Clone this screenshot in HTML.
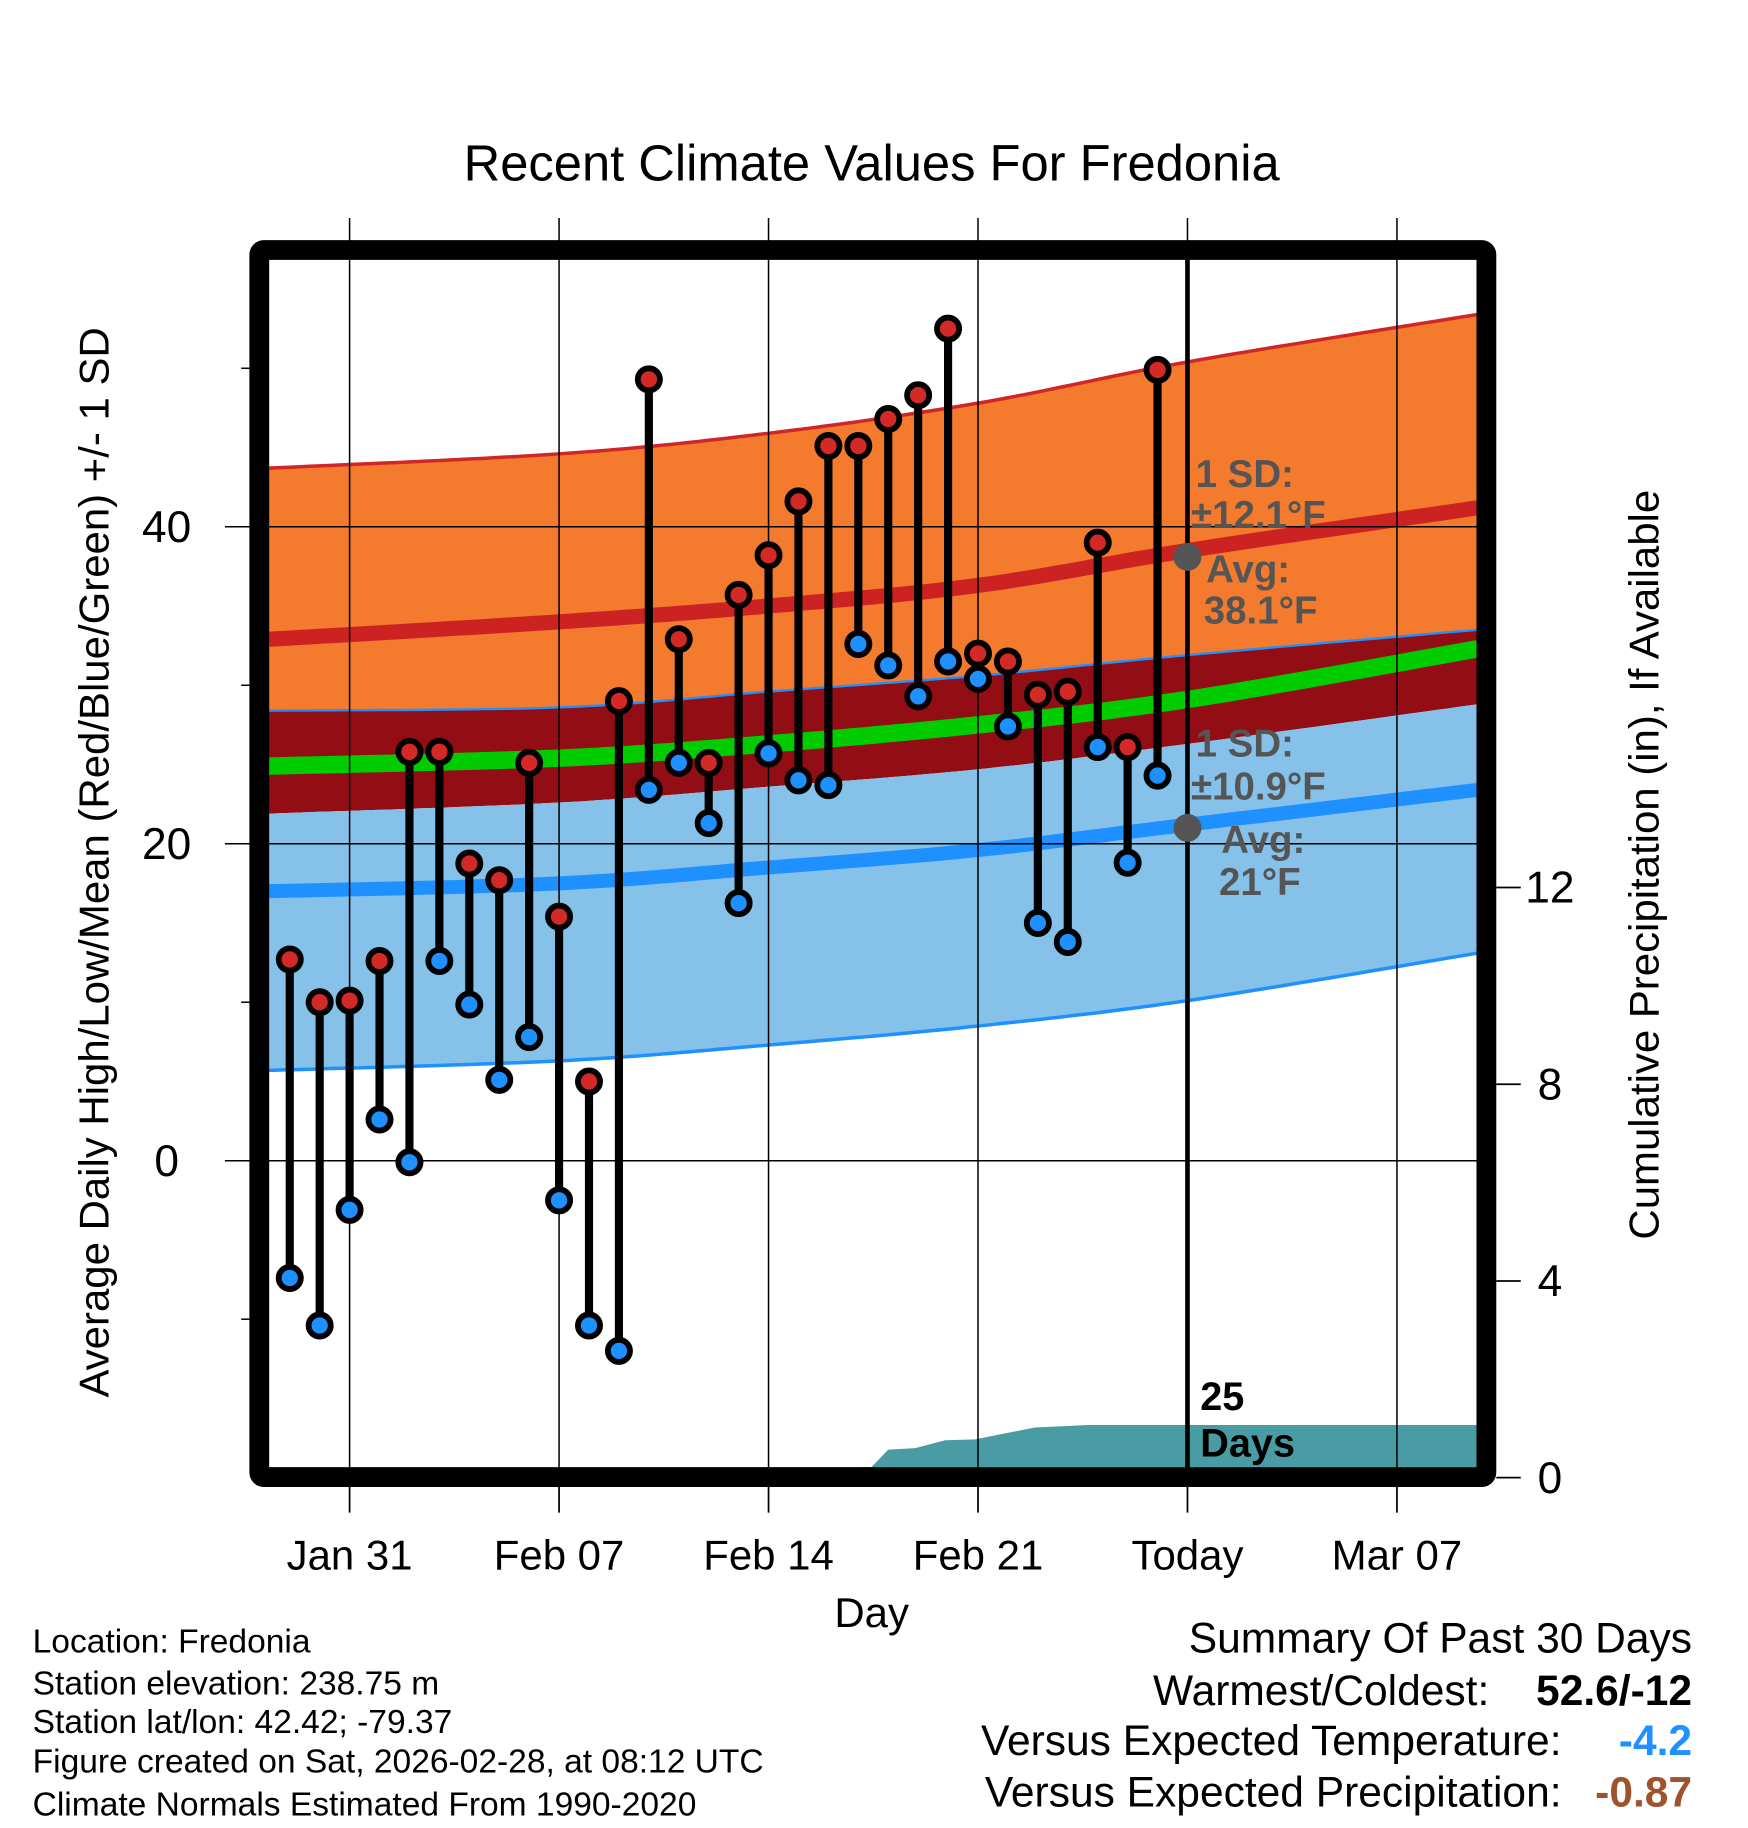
<!DOCTYPE html>
<html><head><meta charset="utf-8"><style>
html,body{margin:0;padding:0;background:#fff}
svg{display:block}
text{font-family:"Liberation Sans",Arial,sans-serif}
</style></head><body>
<svg id="chart" width="1748" height="1828" viewBox="0 0 1500 1568.6" xmlns="http://www.w3.org/2000/svg">
<text x="748" y="155" font-size="43.5" text-anchor="middle">Recent Climate Values For Fredonia</text>
<g id="fills"></g>
<g id="grid"></g>
<g id="marks"></g>
<g id="annot">
<g font-weight="bold" font-size="33" fill="#555">
<text x="1026" y="418">1 SD:</text>
<text x="1022" y="453">±12.1°F</text>
<text x="1035" y="500">Avg:</text>
<text x="1033" y="535">38.1°F</text>
<text x="1026" y="649">1 SD:</text>
<text x="1022" y="686">±10.9°F</text>
<text x="1048" y="732">Avg:</text>
<text x="1046" y="768">21°F</text>
</g>
<text x="1030" y="1210" font-size="34" font-weight="bold">25</text>
<text x="1030" y="1250" font-size="34" font-weight="bold">Days</text>
</g>
<rect x="222.5" y="214.5" width="1053" height="1053" rx="4" fill="none" stroke="#000" stroke-width="17"/>
<g id="axes" font-size="36"></g>
<text x="748" y="1396" font-size="36" text-anchor="middle">Day</text>
<text transform="translate(93,740) rotate(-90)" font-size="36" text-anchor="middle">Average Daily High/Low/Mean (Red/Blue/Green) +/- 1 SD</text>
<text transform="translate(1423,742) rotate(-90)" font-size="36" text-anchor="middle">Cumulative Precipitation (in), If Available</text>
<g font-size="28.8">
<text x="28" y="1418">Location: Fredonia</text>
<text x="28" y="1454">Station elevation: 238.75 m</text>
<text x="28" y="1487">Station lat/lon: 42.42; -79.37</text>
<text x="28" y="1521">Figure created on Sat, 2026-02-28, at 08:12 UTC</text>
<text x="28" y="1558">Climate Normals Estimated From 1990-2020</text>
</g>
<g font-size="36.5">
<text x="1452" y="1418" text-anchor="end">Summary Of Past 30 Days</text>
<text x="1278" y="1463" text-anchor="end">Warmest/Coldest:</text>
<text x="1452" y="1463" text-anchor="end" font-weight="bold">52.6/-12</text>
<text x="1340" y="1506" text-anchor="end">Versus Expected Temperature:</text>
<text x="1452" y="1506" text-anchor="end" font-weight="bold" fill="#1e90ff">-4.2</text>
<text x="1340" y="1550" text-anchor="end">Versus Expected Precipitation:</text>
<text x="1452" y="1550" text-anchor="end" font-weight="bold" fill="#a0522d">-0.87</text>
</g>
</svg>
<script>
// daily observations (day index: 0 = Jan 31)
const obsDays = [-2,-1,0,1,2,3,4,5,6,7,8,9,10,11,12,13,14,15,16,17,18,19,20,21,22,23,24,25,26,27];
const highs = [12.7,10.0,10.1,12.6,25.8,25.8,18.75,17.7,25.1,15.4,5.0,29.0,49.3,32.9,25.1,35.7,38.2,41.6,45.1,45.1,46.8,48.3,52.5,32.0,31.5,29.4,29.6,39.0,26.1,49.9];
const lows = [-7.4,-10.4,-3.1,2.6,-0.1,12.6,9.85,5.1,7.8,-2.5,-10.4,-12.0,23.4,25.1,21.3,16.25,25.7,24.0,23.7,32.6,31.25,29.3,31.5,30.4,27.4,15.0,13.8,26.1,18.8,24.3];
// climatology
const climDays = [-2.7,7,14,21,28,37.7];
const highTop = [43.7,44.6,45.9,47.8,50.4,53.4];
const highMean = [32.9,34.0,35.0,36.3,38.5,41.2];
const highBot = [28.4,28.6,29.6,30.6,31.9,33.5];
const meanMean = [24.9,25.4,26.3,27.5,29.1,32.3];
const lowTop = [21.9,22.6,23.6,24.7,26.3,28.8];
const lowMean = [17.0,17.5,18.5,19.6,21.2,23.4];
const lowBot = [5.7,6.3,7.3,8.5,10.1,13.1];
// cumulative precipitation
const precipDays = [17.1,18.0,18.9,19.9,20.9,22.9,24.7,37.7];
const precipVals = [0,0.57,0.6,0.76,0.78,1.02,1.07,1.07];
const xTickDays = [0,7,14,21,28,35];
const xTickLabels = ["Jan 31","Feb 07","Feb 14","Feb 21","Today","Mar 07"];
const yTicks = [0,20,40];
const yMinor = [-10,10,30,50];
const y2Ticks = [0,4,8,12];

const NS="http://www.w3.org/2000/svg";
const X0=231,X1=1268,Y0=223,Y1=1259;
const xs=d=>300+d*(1019-300)/28;
const ys=v=>996-v*13.6;
const yp=v=>1268-v*42.2;
function mk(tag,attrs,parent){const e=document.createElementNS(NS,tag);for(const k in attrs)e.setAttribute(k,attrs[k]);parent.appendChild(e);return e;}
function curvePts(days,vals){const out=[];for(let i=0;i<days.length-1;i++){const p0=i>0?i-1:i,p3=i+2<days.length?i+2:i+1;for(let t=0;t<1;t+=0.05){const c=(a)=>{const P0=a[p0],P1=a[i],P2=a[i+1],P3=a[p3];return 0.5*((2*P1)+(-P0+P2)*t+(2*P0-5*P1+4*P2-P3)*t*t+(-P0+3*P1-3*P2+P3)*t*t*t);};out.push([xs(c(days)),ys(c(vals))]);}}out.push([xs(days[days.length-1]),ys(vals[vals.length-1])]);return out;}
function band(top,bot){const a=curvePts(climDays,top),b=curvePts(climDays,bot).reverse();return "M"+a.concat(b).map(p=>p[0].toFixed(1)+","+p[1].toFixed(1)).join("L")+"Z";}
function line(vals){return "M"+curvePts(climDays,vals).map(p=>p[0].toFixed(1)+","+p[1].toFixed(1)).join("L");}
const fills=document.getElementById('fills');
let e;
e=mk('path',{d:band(highTop,highBot),fill:'#f47a2e'},fills);


e=mk('path',{d:band(highBot,lowTop),fill:'#930d15'},fills);


e=mk('path',{d:band(lowTop,lowBot),fill:'#85c1e8'},fills);


e=mk('path',{d:line(highTop),fill:'none',stroke:'#d02626','stroke-width':3},fills);


e=mk('path',{d:line(highMean),fill:'none',stroke:'#cc2222','stroke-width':13},fills);


e=mk('path',{d:line(highBot),fill:'none',stroke:'#1e90ff','stroke-width':2},fills);


e=mk('path',{d:line(meanMean),fill:'none',stroke:'#00cc00','stroke-width':15},fills);


e=mk('path',{d:line(lowMean),fill:'none',stroke:'#1e90ff','stroke-width':12},fills);


e=mk('path',{d:line(lowBot),fill:'none',stroke:'#1e90ff','stroke-width':3},fills);


// precip area
let pd="M"+xs(precipDays[0])+","+Y1;
for(let i=0;i<precipDays.length;i++){pd+="L"+Math.min(xs(precipDays[i]),X1)+","+yp(precipVals[i]);}
pd+="L"+X1+","+Y1+"Z";
e=mk('path',{d:pd,fill:'#4a9ca4'},fills);



const grid=document.getElementById('grid');
xTickDays.forEach((d,i)=>{e=mk('line',{x1:xs(d),x2:xs(d),y1:187,y2:Y1,stroke:'#000','stroke-width':1.3},grid);

});
yTicks.forEach(v=>{e=mk('line',{x1:193,x2:X1,y1:ys(v),y2:ys(v),stroke:'#000','stroke-width':1.3},grid);

});
e=mk('line',{x1:xs(28),x2:xs(28),y1:Y0,y2:Y1,stroke:'#000','stroke-width':4},grid);



const marks=document.getElementById('marks');
obsDays.forEach((d,i)=>{
 e=mk('line',{x1:xs(d),x2:xs(d),y1:ys(highs[i]),y2:ys(lows[i]),stroke:'#000','stroke-width':7},marks);
 
 
});
obsDays.forEach((d,i)=>{
 e=mk('circle',{cx:xs(d),cy:ys(highs[i]),r:9.5,fill:'#d42a27',stroke:'#000','stroke-width':5},marks);
 
 
 e=mk('circle',{cx:xs(d),cy:ys(lows[i]),r:9.5,fill:'#1e90ff',stroke:'#000','stroke-width':5},marks);
 
 
});
e=mk('circle',{cx:xs(28),cy:ys(38.1),r:12,fill:'#555'},marks);


e=mk('circle',{cx:xs(28),cy:ys(21),r:12,fill:'#555'},marks);



const axes=document.getElementById('axes');
xTickDays.forEach((d,i)=>{
 e=mk('line',{x1:xs(d),x2:xs(d),y1:1276,y2:1298,stroke:'#000','stroke-width':1.5},axes);
 
 
 e=mk('text',{x:xs(d),y:1347,'text-anchor':'middle'},axes);e.textContent=xTickLabels[i];
 
 
});
yTicks.forEach(v=>{
 e=mk('text',{x:143,y:ys(v)+13,'text-anchor':'middle','font-size':38},axes);e.textContent=v;
 
 
});
yMinor.forEach(v=>{
 e=mk('line',{x1:207,x2:214,y1:ys(v),y2:ys(v),stroke:'#000','stroke-width':1.3},axes);
 
 
});
y2Ticks.forEach(v=>{
 e=mk('line',{x1:1284,x2:1305,y1:yp(v),y2:yp(v),stroke:'#000','stroke-width':1.5},axes);
 
 
 e=mk('text',{x:1330,y:yp(v)+13,'text-anchor':'middle','font-size':38},axes);e.textContent=v;
 
 
});
</script>
</body></html>
